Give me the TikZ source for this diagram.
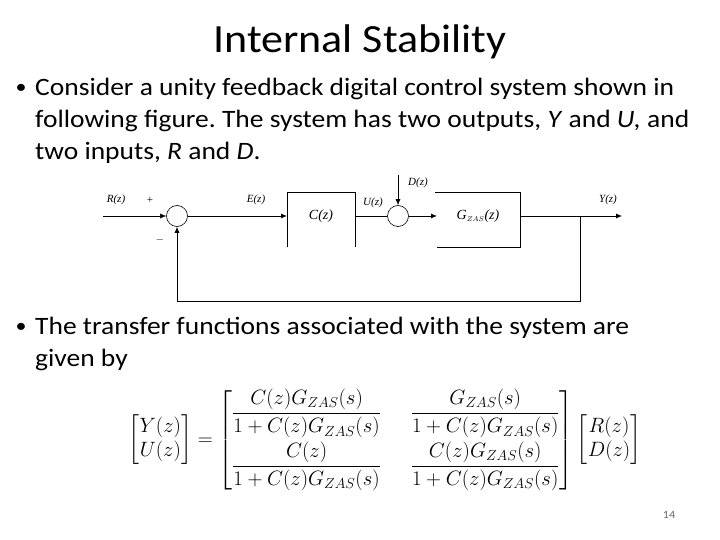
\documentclass[tikz,border=0pt]{standalone}
\usepackage{amsmath}
\usepackage{fontspec}
\setmainfont[FakeStretch=1.1]{Carlito}
\newfontfamily\lblfont{Liberation Serif}
\usetikzlibrary{arrows.meta}
\begin{document}
\frenchspacing
\begin{tikzpicture}[x=1pt,y=-1pt,
  blk/.style={line width=0.8pt},
  sig/.style={line width=0.8pt,-{Latex[length=6pt,width=5pt]}},
  lbl/.style={font=\fontsize{11}{12}\selectfont\lblfont\itshape, inner sep=1pt},
  sumc/.style={circle,draw,line width=0.6pt,minimum size=21pt,inner sep=0pt},
  body/.style={font=\fontsize{25}{32}\selectfont, anchor=north west, inner sep=0pt, align=flush left},
  bul/.style={font=\fontsize{20}{32}\selectfont, anchor=center, inner sep=0pt}]
\useasboundingbox (0,0) rectangle (720,540);
\node[font=\fontsize{40}{44}\selectfont] (title) at (360,42) {Internal Stability};
\node[bul] (b1) at (21,89) {•};
\node[body, text width=700pt] (t1) at (35,78) {Consider a unity feedback digital control system shown in\\following figure. The system has two outputs, \textit{Y} and \textit{U,} and\\two inputs, \textit{R} and \textit{D}.};
\node[bul] (b2) at (21,328) {•};
\node[body, text width=700pt] (t2) at (35,317) {The transfer functions associated with the system are\\given by};
% block diagram
\node[sumc] (s1) at (177,216) {};
\node[sumc] (s2) at (398,216) {};
\coordinate (rin) at (103,216);
\coordinate (cL) at (287,216);
\coordinate (cR) at (355,216);
\coordinate (gL) at (437,216);
\coordinate (gR) at (520,216);
\coordinate (tap) at (580,216);
\coordinate (yout) at (622,216);
\coordinate (fb) at (580,301);
\coordinate (fb2) at (177,301);
\coordinate (din) at (398,175);
\draw[blk] (287,247) -- (287,192) -- (355,192) -- (355,247);
\draw[blk] (435,192) -- (520,192) -- (520,247) -- (437,247);
\node[lbl,font=\fontsize{14}{15}\selectfont\lblfont\itshape] (cz) at (321,216) {C(z)};
\node[lbl,font=\fontsize{14}{15}\selectfont\lblfont\itshape] (gz) at (478,216) {G$_{\scriptscriptstyle ZAS}$(z)};
\draw[sig,line width=0.5pt] (rin) -- (s1);
\draw[sig] (s1) -- (cL);
\draw[blk] (cR) -- (s2);
\draw[sig] (s2) -- (gL);
\draw[blk] (gR) -- (tap);
\draw[sig] (tap) -- (yout);
\draw[sig] (tap) -- (fb) -- (fb2) -- (s1);
\draw[sig] (din) -- (s2);
\node[lbl] (rl) at (116,200) {R(z)};
\node[lbl,font=\fontsize{11}{12}\selectfont\lblfont] (pl) at (150,200) {+};
\node[lbl,font=\fontsize{11}{12}\selectfont\lblfont] (ml) at (160,240) {$-$};
\node[lbl] (el) at (256,200) {E(z)};
\node[lbl] (ul) at (373,203) {U(z)};
\node[lbl] (dl) at (418,183) {D(z)};
\node[lbl] (yl) at (608,200) {Y(z)};
% equation
\node[font=\fontsize{20}{24}\selectfont] (eq) at (385,440) {$\begin{bmatrix}Y(z)\\U(z)\end{bmatrix}=
\left[\begin{matrix}\dfrac{C(z)G_{ZAS}(s)}{1+C(z)G_{ZAS}(s)} & \quad\dfrac{G_{ZAS}(s)}{1+C(z)G_{ZAS}(s)}\\[16pt]
\dfrac{C(z)}{1+C(z)G_{ZAS}(s)} & \quad\dfrac{C(z)G_{ZAS}(s)}{1+C(z)G_{ZAS}(s)}\end{matrix}\right]
\begin{bmatrix}R(z)\\D(z)\end{bmatrix}$};
\node[font=\fontsize{11}{12}\selectfont, text=gray!80!black] (pg) at (669,515) {14};
\end{tikzpicture}
\end{document}
